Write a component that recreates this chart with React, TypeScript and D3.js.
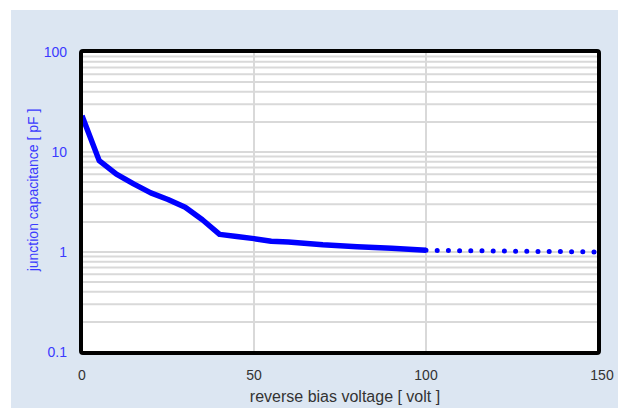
import React, { useEffect, useRef } from 'react';
import * as d3 from 'd3';

// reverse bias voltage [V] and junction capacitance [pF]
const voltage = [0, 5, 10, 15, 20, 25, 30, 35, 40, 45, 50, 55, 60, 70, 80, 90, 100];
const capacitance = [23, 8.2, 6.0, 4.8, 3.9, 3.35, 2.8, 2.1, 1.5, 1.43, 1.36, 1.28, 1.26, 1.18, 1.13, 1.09, 1.04];
// extrapolated part (dotted)
const extVoltage = [100, 125, 150];
const extCapacitance = [1.04, 1.02, 1.0];

const xTicks = [0, 50, 100, 150];
const yTicks = [0.1, 1, 10, 100];
const yTickLabels = ['0.1', '1', '10', '100'];

export default function App() {
  const svgRef = useRef<SVGSVGElement>(null);

  useEffect(() => {
    const svg = d3.select(svgRef.current);
    svg.selectAll('*').remove();

    const width = 622;
    const height = 408;
    const marginLeft = 82;
    const marginRight = 24;
    const marginTop = 52;
    const marginBottom = 56;

    svg.append('rect')
      .attr('x', 11).attr('y', 10)
      .attr('width', 607).attr('height', height)
      .attr('fill', '#dce6f2');

    const x = d3.scaleLinear().domain([0, 150]).range([marginLeft, width - marginRight]);
    const y = d3.scaleLog().domain([0.1, 100]).range([height - marginBottom, marginTop]);

    svg.append('rect')
      .attr('x', marginLeft).attr('y', marginTop)
      .attr('width', x(150) - x(0)).attr('height', y(0.1) - y(100))
      .attr('fill', '#fff');

    // gridlines: every log minor tick + verticals at 50 / 100
    const grid = svg.append('g').attr('stroke', '#d9d9d9').attr('stroke-width', 2);
    y.ticks().forEach(t => {
      grid.append('line')
        .attr('x1', x(0)).attr('x2', x(150))
        .attr('y1', y(t)).attr('y2', y(t));
    });
    xTicks.slice(1, -1).forEach(t => {
      grid.append('line')
        .attr('x1', x(t)).attr('x2', x(t))
        .attr('y1', y(100)).attr('y2', y(0.1));
    });

    const line = d3.line<number>()
      .x((d, i) => x(voltage[i]))
      .y(d => y(d));

    svg.append('path')
      .datum(capacitance)
      .attr('fill', 'none')
      .attr('stroke', '#0000ff')
      .attr('stroke-width', 5.5)
      .attr('stroke-linejoin', 'round')
      .attr('d', line);

    const extLine = d3.line<number>()
      .x((d, i) => x(extVoltage[i]))
      .y(d => y(d));

    svg.append('path')
      .datum(extCapacitance)
      .attr('fill', 'none')
      .attr('stroke', '#0000ff')
      .attr('stroke-width', 5)
      .attr('stroke-linecap', 'round')
      .attr('stroke-dasharray', '0 11.2')
      .attr('d', extLine);

    // frame
    svg.append('rect')
      .attr('x', marginLeft - 1).attr('y', marginTop - 1)
      .attr('width', x(150) - x(0) + 2).attr('height', y(0.1) - y(100) + 2)
      .attr('fill', 'none')
      .attr('stroke', '#000')
      .attr('stroke-width', 4)
      .attr('rx', 2);

    const font = 'Liberation Sans, Arial, sans-serif';

    svg.append('g')
      .selectAll('text')
      .data(yTicks)
      .join('text')
      .attr('x', 67)
      .attr('y', d => y(d) + 5)
      .attr('text-anchor', 'end')
      .attr('font-family', font)
      .attr('font-size', 14)
      .attr('fill', '#3a3aff')
      .text((d, i) => yTickLabels[i]);

    svg.append('g')
      .selectAll('text')
      .data(xTicks)
      .join('text')
      .attr('x', d => x(d) + (d === 150 ? 4 : 0))
      .attr('y', 380)
      .attr('text-anchor', 'middle')
      .attr('font-family', font)
      .attr('font-size', 14)
      .attr('fill', '#333')
      .text(d => d);

    svg.append('text')
      .attr('x', 345)
      .attr('y', 402)
      .attr('text-anchor', 'middle')
      .attr('font-family', font)
      .attr('font-size', 16)
      .attr('fill', '#333')
      .text('reverse bias voltage [ volt ]');

    svg.append('text')
      .attr('transform', 'translate(38,190) rotate(-90)')
      .attr('text-anchor', 'middle')
      .attr('font-family', font)
      .attr('font-size', 14)
      .attr('fill', '#3a3aff')
      .text('junction capacitance [ pF ]');
  }, []);

  return (
    <svg ref={svgRef} width={622} height={408}
      style={{ position: 'absolute', left: 0, top: 0 }} />
  );
}
